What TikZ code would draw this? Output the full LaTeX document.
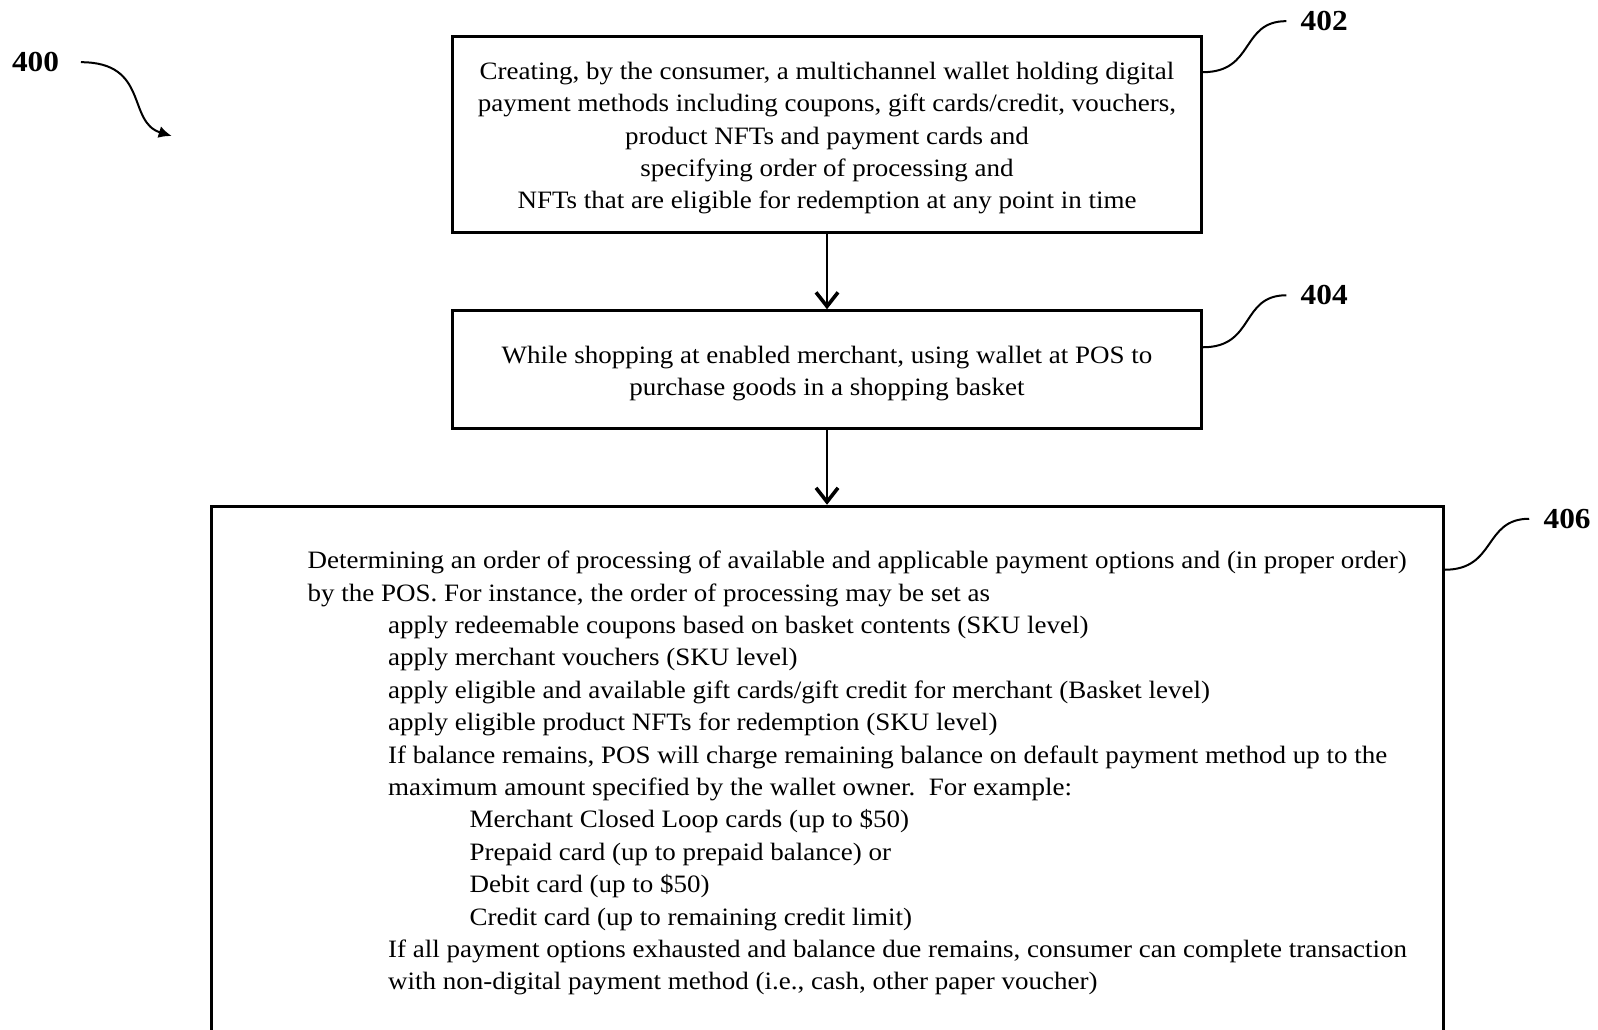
\documentclass[tikz,border=0pt]{standalone}
\usepackage{fontspec}
\setmainfont[FakeStretch=1.08]{Liberation Serif}
\usetikzlibrary{positioning,calc,arrows.meta}
\newcommand{\lvlone}{\hspace*{40.25pt}}
\newcommand{\lvltwo}{\hspace*{81pt}}
\newcommand{\topstrut}{\rule{0pt}{12.3pt}}

\begin{document}
\begin{tikzpicture}[x=0.5pt,y=-0.5pt,
		stepbox/.style={draw,line width=1.5pt,align=center,inner sep=0pt,font=\fontsize{12.5}{16.2}\selectfont},
		steptext/.style={align=left,inner sep=0pt,font=\fontsize{12.5}{16.2}\selectfont},
		refnum/.style={inner sep=0pt,font=\fontsize{14.5}{18}\selectfont\bfseries},
		callout/.style={line width=1pt,shorten >=7pt},
		flow/.style={line width=1.3pt,-{Straight Barb[length=7pt,width=11pt,line width=1.8pt]}}]
		\path[use as bounding box,clip] (0,0) rectangle (1598,1029);
		\node[stepbox,minimum width=374.5pt,minimum height=97.85pt] (s402) at (827,134.5) {\topstrut Creating, by the consumer, a multichannel wallet holding digital\\payment methods including coupons, gift cards/credit, vouchers,\\product NFTs and payment cards and\\specifying order of processing and\\NFTs that are eligible for redemption at any point in time};
		\node[stepbox,minimum width=374.5pt,minimum height=59pt,below=37.7pt of s402] (s404) {\topstrut While shopping at enabled merchant, using wallet at POS to\\purchase goods in a shopping basket};
		\node[stepbox,minimum width=616pt,minimum height=280pt,below=37.25pt of s404] (s406) {};
		\node[steptext,anchor=north west] (t406) at ($(s406.north west)+(97.8,46)$) {Determining an order of processing of available and applicable payment options and (in proper order)\\
			by the POS. For instance, the order of processing may be set as\\
			\lvlone apply redeemable coupons based on basket contents (SKU level)\\
			\lvlone apply merchant vouchers (SKU level)\\
			\lvlone apply eligible and available gift cards/gift credit for merchant (Basket level)\\
			\lvlone apply eligible product NFTs for redemption (SKU level)\\
			\lvlone If balance remains, POS will charge remaining balance on default payment method up to the\\
			\lvlone maximum amount specified by the wallet owner.\ \ For example:\\
			\lvltwo Merchant Closed Loop cards (up to \$50)\\
			\lvltwo Prepaid card (up to prepaid balance) or\\
			\lvltwo Debit card (up to \$50)\\
			\lvltwo Credit card (up to remaining credit limit)\\
			\lvlone If all payment options exhausted and balance due remains, consumer can complete transaction\\
			\lvlone with non-digital payment method (i.e., cash, other paper voucher)};
		\draw[flow] (s402) -- (s404);
		\draw[flow] (s404) -- (s406);
		\coordinate (c402) at ($(s402.north east)+(0,37)$);
		\coordinate (c404) at ($(s404.north east)+(0,38)$);
		\coordinate (c406) at ($(s406.north east)+(0,65)$);
		\node[refnum,anchor=west] (l402) at ($(c402)+(97.3,-51)$) {402};
		\node[refnum,anchor=west] (l404) at ($(c404)+(97.3,-52)$) {404};
		\node[refnum,anchor=west] (l406) at ($(c406)+(98.7,-51)$) {406};
		\draw[callout] (c402) .. controls +(52,0) and +(-60,0) .. (l402.west);
		\draw[callout] (c404) .. controls +(52,0) and +(-60,0) .. (l404.west);
		\draw[callout] (c406) .. controls +(52,0) and +(-60,0) .. (l406.west);
		\node[refnum] (l400) at (35.5,62.2) {400};
		\coordinate (a400) at (171.7,136);
		\draw[line width=1pt,shorten <=10.8pt,-{Latex[length=6.5pt,width=6pt]}] (l400.east) .. controls +(90,0) and +(-45,-14) .. (a400);
	\end{tikzpicture}
\end{document}
